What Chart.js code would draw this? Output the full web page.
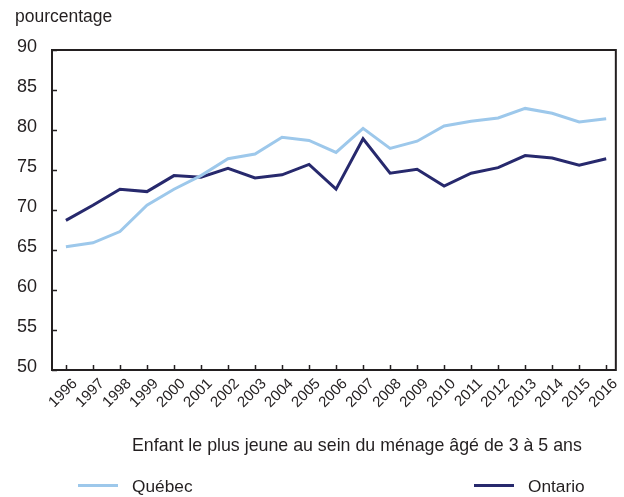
<!DOCTYPE html>
<html>
<head>
<meta charset="utf-8">
<script src="https://cdn.jsdelivr.net/npm/chart.js@4.4.1/dist/chart.umd.min.js"></script>
<style>
  html, body { margin: 0; padding: 0; background: #fff; }
  #wrap { position: relative; width: 624px; height: 497px; }
</style>
</head>
<body>
<div id="wrap"><canvas id="c" width="624" height="497"></canvas></div>
<script>
const years = [1996,1997,1998,1999,2000,2001,2002,2003,2004,2005,2006,2007,2008,2009,2010,2011,2012,2013,2014,2015,2016];
const quebec = [65.4,65.9,67.3,70.6,72.6,74.3,76.4,77.0,79.1,78.7,77.2,80.2,77.7,78.6,80.5,81.1,81.5,82.7,82.1,81.0,81.4];
const ontario = [68.7,70.6,72.6,72.3,74.3,74.1,75.2,74.0,74.4,75.7,72.6,78.9,74.6,75.1,73.0,74.6,75.3,76.8,76.5,75.6,76.4];
const yTicks = [50,55,60,65,70,75,80,85,90];
const yAxisTitle = 'pourcentage';
const xAxisTitle = 'Enfant le plus jeune au sein du ménage âgé de 3 à 5 ans';
const seriesNames = ['Québec','Ontario'];

const FONT = '"Liberation Sans", Arial, Helvetica, sans-serif';
const TXT = '#231f20';

const framePlugin = {
  id: 'frame',
  afterDatasetsDraw(chart) {
    const {ctx, chartArea: a, scales} = chart;
    ctx.save();
    ctx.strokeStyle = '#231f20';
    ctx.lineWidth = 1.5;
    ctx.beginPath();
    yTicks.forEach(v => {
      const y = Math.round(scales.y.getPixelForValue(v)) + 0.5;
      ctx.moveTo(a.left, y); ctx.lineTo(a.left + 5, y);
    });
    years.forEach(v => {
      const x = Math.round(scales.x.getPixelForValue(v)) + 0.5;
      ctx.moveTo(x, a.bottom); ctx.lineTo(x, a.bottom - 5);
    });
    ctx.stroke();
    ctx.lineWidth = 2;
    ctx.strokeRect(a.left, a.top, a.right - a.left, a.bottom - a.top);
    ctx.restore();
  },
  afterDraw(chart) {
    const {ctx} = chart;
    ctx.save();
    ctx.fillStyle = TXT;
    ctx.textBaseline = 'alphabetic';
    ctx.textAlign = 'left';
    ctx.font = '17.5px ' + FONT;
    ctx.fillText(yAxisTitle, 15, 22);
    ctx.font = '17.8px ' + FONT;
    ctx.fillText(xAxisTitle, 132, 451);
    const legendPos = [{x: 78, tx: 132}, {x: 474, tx: 528}];
    ctx.font = '17.3px ' + FONT;
    chart.data.datasets.forEach((ds, i) => {
      const p = legendPos[i];
      ctx.strokeStyle = ds.borderColor;
      ctx.lineWidth = 3;
      ctx.beginPath();
      ctx.moveTo(p.x, 485.5); ctx.lineTo(p.x + 40, 485.5);
      ctx.stroke();
      ctx.fillStyle = TXT;
      ctx.fillText(ds.label, p.tx, 492);
    });
    ctx.restore();
  }
};

new Chart(document.getElementById('c'), {
  type: 'line',
  data: {
    datasets: [
      { label: seriesNames[0], data: years.map((yr, i) => ({x: yr, y: quebec[i]})), borderColor: '#9dc8eb', borderWidth: 3, pointRadius: 0, tension: 0, fill: false },
      { label: seriesNames[1], data: years.map((yr, i) => ({x: yr, y: ontario[i]})), borderColor: '#27296d', borderWidth: 3, pointRadius: 0, tension: 0, fill: false }
    ]
  },
  options: {
    responsive: false,
    animation: false,
    layout: { padding: { top: 50, right: 5, left: 0, bottom: 0 } },
    plugins: { legend: { display: false }, tooltip: { enabled: false } },
    scales: {
      x: {
        type: 'linear',
        min: 1995.485,
        max: 2016.357,
        grid: { display: false, drawTicks: false },
        border: { display: false },
        afterFit(s) { s.height = 127; },
        afterBuildTicks(s) { s.ticks = years.map(v => ({value: v})); },
        ticks: {
          autoSkip: false,
          minRotation: 45,
          maxRotation: 45,
          padding: 5,
          labelOffset: 9,
          color: TXT,
          font: { family: FONT, size: 15 },
          callback: v => String(v)
        }
      },
      y: {
        min: 50,
        max: 90,
        grid: { display: false, drawTicks: false },
        border: { display: false },
        afterFit(s) { s.width = 52; },
        afterBuildTicks(s) { s.ticks = yTicks.map(v => ({value: v})); },
        ticks: {
          padding: 15,
          labelOffset: -3,
          color: TXT,
          font: { family: FONT, size: 18 },
          callback: v => String(v)
        }
      }
    }
  },
  plugins: [framePlugin]
});
</script>
</body>
</html>
